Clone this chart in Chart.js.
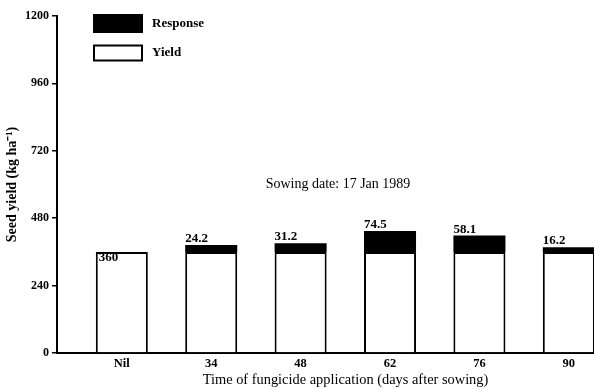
<!DOCTYPE html>
<html><head><meta charset="utf-8">
<script src="https://cdn.jsdelivr.net/npm/chart.js@4"></script>
<style>
html,body{margin:0;padding:0;background:#fff;overflow:hidden;width:594px;height:389px}
#wrap{width:634px;height:389px}
canvas{display:block}
</style>
</head><body><div id="wrap"><canvas id="c" width="634" height="389"></canvas></div>
<script>
const categories = ['Nil', '34', '48', '62', '76', '90'];
const yieldValues = [360, 360, 360, 360, 360, 360];
const responseValues = [null, 24.2, 31.2, 74.5, 58.1, 16.2];
const yTicks = [0, 240, 480, 720, 960, 1200];
const seriesNames = ['Yield', 'Response'];
const noteText = 'Sowing date: 17 Jan 1989';
const xTitle = 'Time of fungicide application (days after sowing)';
const yTitle = 'Seed yield (kg ha\u207B\u00B9)';

const SERIF = '"Liberation Serif", "Times New Roman", serif';

const labelPlugin = {
  id: 'labelsAndLegend',
  afterDatasetsDraw(chart) {
    const ctx = chart.ctx;
    const yMeta = chart.getDatasetMeta(0);
    const rMeta = chart.getDatasetMeta(1);
    const area = chart.chartArea;
    ctx.save();
    ctx.fillStyle = '#000';
    ctx.font = 'bold 13px ' + SERIF;
    ctx.textAlign = 'left';
    ctx.textBaseline = 'alphabetic';
    categories.forEach((c, i) => {
      const r = responseValues[i];
      if (r == null) {
        const el = yMeta.data[i];
        ctx.fillText(String(yieldValues[i]), el.x - el.width / 2 + 3, el.y + 9);
      } else {
        const el = rMeta.data[i];
        ctx.fillText(r.toFixed(1), el.x - el.width / 2, el.y - 3);
      }
    });
    // note
    ctx.font = '14px ' + SERIF;
    ctx.textAlign = 'center';
    ctx.textBaseline = 'middle';
    ctx.fillText(noteText, chart.scales.x.getPixelForValue(2.418), chart.scales.y.getPixelForValue(600));
    // legend (Response on top, Yield below)
    const ds = chart.data.datasets;
    const order = [1, 0];
    const boxX = area.left + 36;
    const rows = [{top: area.top - 2, h: 19}, {top: area.top + 28.5, h: 17}];
    order.forEach((di, k) => {
      const d = ds[di];
      const row = rows[k];
      ctx.fillStyle = d.backgroundColor;
      ctx.fillRect(boxX, row.top, 50, row.h);
      ctx.strokeStyle = '#000';
      ctx.lineWidth = 2;
      ctx.strokeRect(boxX + 1, row.top + 1, 48, row.h - 2);
      ctx.fillStyle = '#000';
      ctx.font = 'bold 13px ' + SERIF;
      ctx.textAlign = 'left';
      ctx.textBaseline = 'middle';
      ctx.fillText(d.label, boxX + 59, row.top + row.h / 2);
    });
    ctx.restore();
  }
};

new Chart(document.getElementById('c'), {
  type: 'bar',
  data: {
    datasets: [
      {
        label: seriesNames[0],
        data: categories.map((c, i) => ({x: i, y: yieldValues[i]})),
        backgroundColor: '#ffffff',
        borderColor: '#000000',
        borderWidth: 2,
        borderSkipped: 'start'
      },
      {
        label: seriesNames[1],
        data: categories.map((c, i) => ({x: i, y: responseValues[i]})),
        backgroundColor: '#000000',
        borderColor: '#000000',
        borderWidth: 0
      }
    ]
  },
  options: {
    responsive: false,
    animation: false,
    devicePixelRatio: 1,
    layout: {padding: {top: 16, left: 0, right: 0, bottom: 0}},
    datasets: {bar: {categoryPercentage: 1, barPercentage: 0.582}},
    plugins: {legend: {display: false}, tooltip: {enabled: false}},
    scales: {
      x: {
        type: 'linear',
        offset: false,
        stacked: true,
        min: -0.725,
        max: 5.729,
        afterBuildTicks(s) { s.ticks = categories.map((c, i) => ({value: i})); },
        afterFit(s) { s.height = 36; },
        grid: {display: false, drawTicks: false, offset: false},
        border: {display: true, color: '#000', width: 2},
        ticks: {
          color: '#000',
          padding: 3,
          maxRotation: 0,
          autoSkip: false,
          font: {family: SERIF, size: 12.5, weight: 'bold'},
          callback: (v) => categories[v] !== undefined ? categories[v] : ''
        },
        title: {
          display: true, text: xTitle, color: '#000',
          font: {family: SERIF, size: 14.4},
          padding: {top: 0, bottom: 0}
        }
      },
      y: {
        stacked: true,
        min: 0,
        max: 1200,
        afterBuildTicks(s) { s.ticks = yTicks.map(v => ({value: v})); },
        afterFit(s) { s.width = 57; },
        grid: {display: true, drawOnChartArea: false, drawTicks: true, tickLength: 5, color: '#000', lineWidth: 1.5},
        border: {display: true, color: '#000', width: 2},
        ticks: {
          color: '#000', padding: 3,
          font: {family: SERIF, size: 12, weight: 'bold'},
          callback: (v) => String(v)
        },
        title: {
          display: true, text: yTitle, color: '#000',
          font: {family: SERIF, size: 14, weight: 'bold'},
          padding: {top: 4, bottom: 0}
        }
      }
    }
  },
  plugins: [labelPlugin]
});
</script>
</body></html>
